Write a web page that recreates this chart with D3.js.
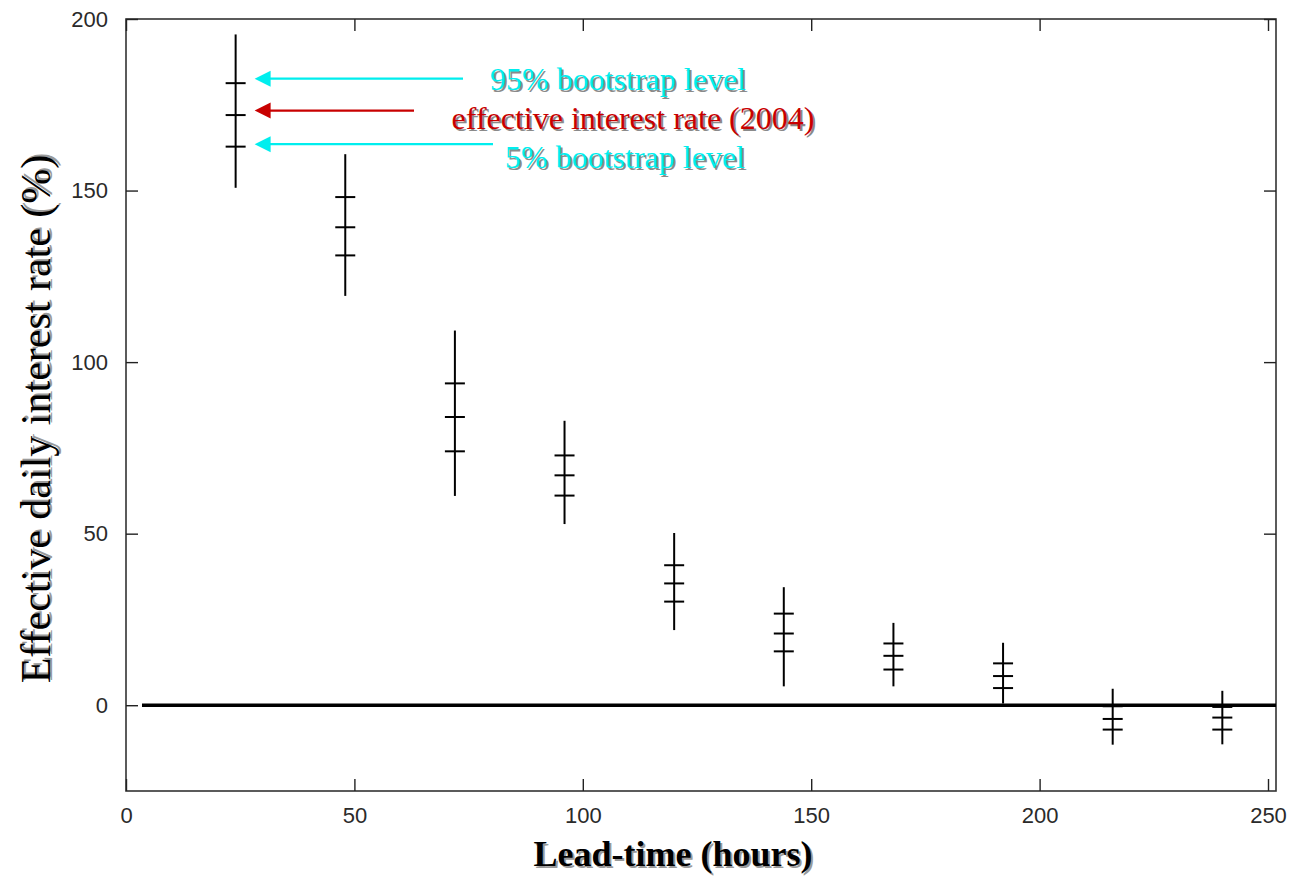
<!DOCTYPE html>
<html>
<head>
<meta charset="utf-8">
<script src="https://cdn.jsdelivr.net/npm/d3@7"></script>
<style>
  html, body { margin: 0; padding: 0; background: #ffffff; }
  svg { display: block; }
  .tick text { font-family: "Liberation Sans", Arial, sans-serif; fill: #2a2a2a; }
</style>
</head>
<body>
<svg id="chart" width="1297" height="885"></svg>
<script>
// Lead times (hours) at which the effective daily interest rate was evaluated
const leadTimes = [24, 48, 72, 96, 120, 144, 168, 192, 216, 240];
// Whisker extremes of each bootstrap distribution (%)
const whiskerHigh = [195.5, 160.6, 109.2, 82.9, 50.2, 34.4, 24.0, 18.2, 4.8, 4.2];
const whiskerLow  = [150.8, 119.3, 61.0, 52.8, 21.9, 5.5, 5.5, 0.5, -11.5, -11.4];
// 95% and 5% bootstrap levels (%)
const level95 = [181.3, 148.1, 93.8, 72.8, 40.8, 26.7, 18.0, 12.2, -0.3, -0.5];
const level5  = [162.8, 131.1, 74.0, 61.1, 30.2, 15.7, 10.4, 5.0, -7.1, -7.1];
// Effective interest rate in 2004 (%)
const rate2004 = [172.0, 139.3, 84.0, 67.0, 35.5, 20.9, 14.4, 8.5, -4.0, -3.6];
// Axis ticks
const xTicks = [0, 50, 100, 150, 200, 250];
const yTicks = [0, 50, 100, 150, 200];
const xDomain = [0, 251.75];
const yDomain = [-25, 200];

const svg = d3.select("#chart");
const plot = { left: 126, right: 1276, top: 19, bottom: 791 };

const x = d3.scaleLinear().domain(xDomain).range([plot.left, plot.right]);
const y = d3.scaleLinear().domain(yDomain).range([plot.bottom, plot.top]);

// Frame
svg.append("rect")
  .attr("x", plot.left).attr("y", plot.top)
  .attr("width", plot.right - plot.left).attr("height", plot.bottom - plot.top)
  .attr("fill", "none").attr("stroke", "#333").attr("stroke-width", 1.6);

function styleAxis(g) {
  g.select(".domain").remove();
  g.selectAll(".tick line").attr("stroke", "#222").attr("stroke-width", 1.4);
  g.selectAll(".tick text").attr("font-size", 22);
}

// Bottom / left axes with inward ticks and labels
svg.append("g").attr("transform", `translate(0,${plot.bottom})`)
  .call(d3.axisBottom(x).tickValues(xTicks).tickSizeInner(-12).tickSizeOuter(0).tickPadding(16))
  .call(styleAxis);
svg.append("g").attr("transform", `translate(${plot.left},0)`)
  .call(d3.axisLeft(y).tickValues(yTicks).tickSizeInner(-12).tickSizeOuter(0).tickPadding(18))
  .call(styleAxis);
// Mirrored ticks on top and right
svg.append("g").attr("transform", `translate(0,${plot.top})`)
  .call(d3.axisTop(x).tickValues(xTicks).tickSizeInner(-12).tickSizeOuter(0).tickFormat(""))
  .call(styleAxis);
svg.append("g").attr("transform", `translate(${plot.right},0)`)
  .call(d3.axisRight(y).tickValues(yTicks).tickSizeInner(-12).tickSizeOuter(0).tickFormat(""))
  .call(styleAxis);

// Zero reference line
svg.append("line")
  .attr("x1", x(3.5)).attr("x2", plot.right)
  .attr("y1", y(0)).attr("y2", y(0))
  .attr("stroke", "#000").attr("stroke-width", 3.4);

// Error bars: whisker plus three cross ticks
const bars = leadTimes.map((t, i) => ({
  t, hi: whiskerHigh[i], lo: whiskerLow[i],
  marks: [level95[i], rate2004[i], level5[i]]
}));
const half = 10;
const barG = svg.append("g").attr("stroke", "#000").attr("stroke-width", 2);
barG.selectAll("line.whisker").data(bars).join("line")
  .attr("class", "whisker")
  .attr("x1", d => x(d.t)).attr("x2", d => x(d.t))
  .attr("y1", d => y(d.hi)).attr("y2", d => y(d.lo));
barG.selectAll("g.marks").data(bars).join("g")
  .attr("class", "marks")
  .selectAll("line").data(d => d.marks.map(v => ({ t: d.t, v }))).join("line")
  .attr("x1", d => x(d.t) - half).attr("x2", d => x(d.t) + half)
  .attr("y1", d => y(d.v)).attr("y2", d => y(d.v));

// Arrow annotations pointing at the first error bar
const notes = [
  { text: "95% bootstrap level", value: level95[0], color: "#00eeee", end: 463, tx: 618, ty: 90, dy: -4.5 },
  { text: "effective interest rate (2004)", value: rate2004[0], color: "#c80000", end: 414, tx: 633, ty: 129, dy: -4.5 },
  { text: "5% bootstrap level", value: level5[0], color: "#00eeee", end: 493, tx: 625, ty: 168, dy: -2.5 }
];
const tipX = x(leadTimes[0]) + 19;
notes.forEach(n => {
  const yy = y(n.value) + n.dy;
  svg.append("line")
    .attr("x1", n.end).attr("x2", tipX + 14)
    .attr("y1", yy).attr("y2", yy)
    .attr("stroke", n.color).attr("stroke-width", 2.2);
  svg.append("path")
    .attr("d", `M${tipX},${yy} L${tipX + 16},${yy - 8} L${tipX + 16},${yy + 8} Z`)
    .attr("fill", n.color);
  svg.append("text").attr("x", n.tx + 2).attr("y", n.ty + 2)
    .attr("text-anchor", "middle")
    .attr("font-family", "'Liberation Serif', 'Times New Roman', serif")
    .attr("font-size", 32).attr("fill", "#8a8a8a").text(n.text);
  svg.append("text").attr("x", n.tx).attr("y", n.ty)
    .attr("text-anchor", "middle")
    .attr("font-family", "'Liberation Serif', 'Times New Roman', serif")
    .attr("font-size", 32).attr("fill", n.color).text(n.text);
});

// Axis titles with a soft drop shadow
function shadowText(attrs, txt) {
  const g = svg.append("g").attr("transform", attrs.transform);
  g.append("text").attr("x", 2).attr("y", 2)
    .attr("text-anchor", "middle")
    .attr("font-family", "'Liberation Serif', 'Times New Roman', serif")
    .attr("font-size", attrs.size).attr("font-weight", attrs.weight)
    .attr("fill", "#9a9a9a").text(txt);
  g.append("text").attr("x", 0).attr("y", 0)
    .attr("text-anchor", "middle")
    .attr("font-family", "'Liberation Serif', 'Times New Roman', serif")
    .attr("font-size", attrs.size).attr("font-weight", attrs.weight)
    .attr("fill", "#000").text(txt);
}
shadowText({ transform: "translate(673,866)", size: 36, weight: "bold" }, "Lead-time (hours)");
shadowText({ transform: "translate(50,419) rotate(-90)", size: 42, weight: "normal" }, "Effective daily interest rate (%)");
</script>
</body>
</html>
